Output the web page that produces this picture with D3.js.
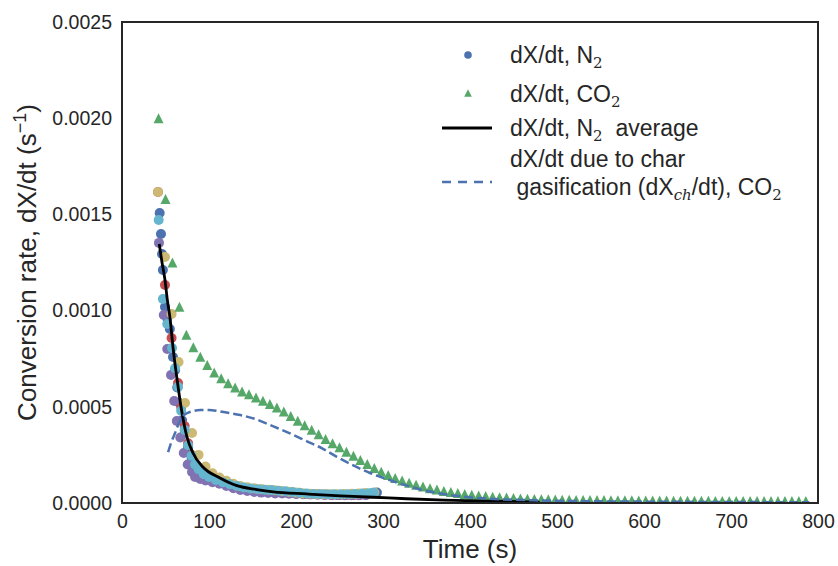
<!DOCTYPE html>
<html>
<head>
<meta charset="utf-8">
<script src="https://cdn.jsdelivr.net/npm/d3@7"></script>
<style>
  body { margin: 0; background: #fff; }
  text { font-family: "Liberation Sans", Arial, sans-serif; fill: #262626; }
</style>
</head>
<body>
<script>
// all rates below are in units of 1e-3 1/s

// CO2 run, one triangle each ~8 s
var co2Time = [42,50,58,66,74,82,90,98,106,114,122,130,138,146,154,162,170,178,186,194,202,210,218,226,234,242,250,258,266,274,282,290,298,306,314,322,330,338,346,354,362,370,378,386,394,402,410,418,426,434,442,450,458,466,474,482,490,498,506,514,522,530,538,546,554,562,570,578,586,594,602,610,618,626,634,642,650,658,666,674,682,690,698,706,714,722,730,738,746,754,762,770,778,786];
var co2Rate = [2.00,1.58,1.25,1.02,0.875,0.81,0.76,0.717,0.678,0.648,
  0.622,0.600,0.580,0.565,0.548,0.532,0.515,0.496,0.475,0.452,
  0.428,0.404,0.381,0.357,0.333,0.311,0.290,0.267,0.245,0.224,
  0.203,0.182,0.162,0.145,0.130,0.117,0.105,0.095,0.086,0.077,
  0.070,0.063,0.057,0.052,0.047,0.043,0.039,0.036,0.033,0.030,
  0.028,0.026,0.024,0.022,0.021,0.020,0.019,0.018,0.017,0.017,
  0.016,0.016,0.015,0.015,0.015,0.014,0.014,0.014,0.014,0.013,
  0.013,0.013,0.013,0.013,0.012,0.012,0.012,0.012,0.012,0.012,
  0.011,0.011,0.011,0.011,0.011,0.011,0.011,0.010,0.010,0.010,
  0.010,0.010,0.010,0.010];

// N2 runs (scatter)
var blueTime = [43.3,44.8,46,47,49.4,52,55,58.6,61,63.5,66,69,72,76,80,84,88,96,104,112,120,128,136,144,152,160,168,176,184,192,200,208,216,224,232,240,248,256,264,272,280,287,293];
var blueRate = [1.507,1.398,1.294,1.211,1.019,0.96,0.904,0.759,0.69,0.60,0.52,0.43,0.36,0.29,0.235,0.20,0.18,0.155,0.135,0.118,0.104,0.091,0.081,0.074,0.069,0.065,0.061,0.058,0.055,0.052,0.050,0.048,0.046,0.045,0.044,0.043,0.042,0.042,0.042,0.043,0.045,0.049,0.055];
var redTime = [41.4,49.4,57,64.4,68,72,76,80,85,90,98,106,114,122,130,138,146,154,162,170,178,186,194,202,210,218,226,234,242,250,258,266,274,282];
var redRate = [1.616,1.133,0.858,0.624,0.50,0.40,0.31,0.25,0.20,0.17,0.145,0.125,0.110,0.097,0.086,0.078,0.072,0.067,0.063,0.060,0.057,0.054,0.052,0.049,0.047,0.046,0.044,0.043,0.042,0.041,0.041,0.041,0.042,0.044];
var purpleTime = [42.5,48,52,56.3,60,63,67,71,75.5,80.5,84,90,96,104,112,120,128,136,144,152,160,168,176,184,192,200,208,216,224,232,240,248,256,264,272,280];
var purpleRate = [1.352,0.977,0.80,0.665,0.53,0.426,0.34,0.26,0.20,0.161,0.135,0.125,0.117,0.108,0.100,0.088,0.077,0.068,0.062,0.057,0.054,0.052,0.050,0.049,0.048,0.047,0.046,0.045,0.044,0.043,0.042,0.041,0.040,0.040,0.040,0.041];
var yellowTime = [41.4,49.4,57,65,72.4,80.5,88,96,104,112,120,128,136,144,152,160,168,176,184,192,200,208,216,224,232,240,248,256,264,272,280,290];
var yellowRate = [1.616,1.279,0.982,0.733,0.52,0.364,0.25,0.19,0.155,0.132,0.115,0.100,0.088,0.082,0.077,0.073,0.069,0.066,0.062,0.058,0.054,0.050,0.048,0.047,0.046,0.046,0.046,0.047,0.048,0.050,0.052,0.055];
var cyanTime = [42.2,47,52,57.5,61,64.4,68,72,76,80,84,88,94,100,108,116,124,132,140,148,156,164,172,180,188,196,204,212,220,228,236,244,252,260,268,276,284,289];
var cyanRate = [1.471,1.06,0.93,0.806,0.70,0.603,0.48,0.38,0.30,0.245,0.20,0.175,0.15,0.135,0.12,0.108,0.097,0.088,0.081,0.076,0.072,0.069,0.067,0.064,0.061,0.057,0.053,0.049,0.047,0.046,0.045,0.045,0.045,0.046,0.047,0.049,0.051,0.053];

// N2 average line
var avgTime = [42.8,46,49.4,52,55,59,63.4,69,74.7,81.6,93,112.6,132,155,174,212,251,289,327,370,420,480];
var avgRate = [1.346,1.25,1.159,1.06,0.967,0.795,0.639,0.468,0.343,0.260,0.187,0.130,0.090,0.070,0.058,0.047,0.037,0.030,0.022,0.015,0.010,0.005];

// char gasification, CO2 (dashed)
var charTime = [53,57,61,65,69,74,80,90,100,110,120,136,153,174,193,212,230,247,266,285,305,323,343,369,396,427,473,520,600,700,790];
var charRate = [0.265,0.32,0.364,0.41,0.447,0.465,0.476,0.483,0.483,0.478,0.470,0.457,0.437,0.398,0.362,0.322,0.284,0.240,0.195,0.156,0.123,0.096,0.070,0.047,0.031,0.021,0.014,0.010,0.007,0.005,0.004];

var xTicks = [0,100,200,300,400,500,600,700,800];
var yTicks = [0,0.5,1.0,1.5,2.0,2.5];

var n2Runs = [
  { time: blueTime, rate: blueRate, color: "#4C72B0" },
  { time: redTime, rate: redRate, color: "#C44E52" },
  { time: purpleTime, rate: purpleRate, color: "#8172B2" },
  { time: yellowTime, rate: yellowRate, color: "#CCB974" },
  { time: cyanTime, rate: cyanRate, color: "#64B5CD" }
];

var W = 838, H = 566;
var pLeft = 122, pRight = 818, pTop = 22, pBottom = 503;

var svg = d3.select("body").append("svg").attr("width", W).attr("height", H);

var x = d3.scaleLinear().domain([0, 800]).range([pLeft, pRight]);
var y = d3.scaleLinear().domain([0, 2.5]).range([pBottom, pTop]);

svg.append("clipPath").attr("id", "plotclip")
  .append("rect").attr("x", pLeft).attr("y", pTop)
  .attr("width", pRight - pLeft).attr("height", pBottom - pTop);

var plot = svg.append("g").attr("clip-path", "url(#plotclip)");

// scatter of N2 runs
n2Runs.forEach(function(run) {
  plot.append("g").selectAll("circle")
    .data(d3.zip(run.time, run.rate))
    .enter().append("circle")
    .attr("cx", function(d) { return x(d[0]); })
    .attr("cy", function(d) { return y(d[1]); })
    .attr("r", 5)
    .attr("fill", run.color);
});

// CO2 triangles
plot.append("g").selectAll("path")
  .data(d3.zip(co2Time, co2Rate))
  .enter().append("path")
  .attr("d", "M0,-5L5,5L-5,5Z")
  .attr("transform", function(d) { return "translate(" + x(d[0]) + "," + y(d[1]) + ")"; })
  .attr("fill", "#55A868");

var line = d3.line()
  .x(function(d) { return x(d[0]); })
  .y(function(d) { return y(d[1]); })
  .curve(d3.curveMonotoneX);

plot.append("path")
  .attr("d", line(d3.zip(avgTime, avgRate)))
  .attr("fill", "none").attr("stroke", "#000").attr("stroke-width", 2.8);

plot.append("path")
  .attr("d", line(d3.zip(charTime, charRate)))
  .attr("fill", "none").attr("stroke", "#4C72B0").attr("stroke-width", 2.5)
  .attr("stroke-dasharray", "9,4");

// axes (no tick marks, seaborn white style)
var xAxis = svg.append("g").attr("transform", "translate(0," + pBottom + ")")
  .call(d3.axisBottom(x).tickValues(xTicks).tickSize(0).tickPadding(11).tickFormat(d3.format("d")));
var yAxis = svg.append("g").attr("transform", "translate(" + pLeft + ",0)")
  .call(d3.axisLeft(y).tickValues(yTicks).tickSize(0).tickPadding(10)
    .tickFormat(function(d) { return (d / 1000).toFixed(4); }));
[xAxis, yAxis].forEach(function(a) {
  a.select(".domain").remove();
  a.attr("font-family", null).attr("font-size", null);
  a.selectAll("text").attr("font-size", 19.5).attr("fill", "#262626");
});

svg.append("rect")
  .attr("x", pLeft).attr("y", pTop)
  .attr("width", pRight - pLeft).attr("height", pBottom - pTop)
  .attr("fill", "none").attr("stroke", "#262626").attr("stroke-width", 2);

// axis labels
svg.append("text").attr("x", (pLeft + pRight) / 2).attr("y", 558)
  .attr("text-anchor", "middle").attr("font-size", 26).text("Time (s)");

var yl = svg.append("text")
  .attr("transform", "translate(36," + (pTop + pBottom) / 2 + ") rotate(-90)")
  .attr("text-anchor", "middle").attr("font-size", 26);
yl.append("tspan").text("Conversion rate, dX/dt (s");
yl.append("tspan").attr("dy", -10).attr("font-size", 18).text("\u22121");
yl.append("tspan").attr("dy", 10).text(")");

// legend
var lg = svg.append("g");
var legFont = 23;
lg.append("circle").attr("cx", 468).attr("cy", 55).attr("r", 3.8).attr("fill", "#4C72B0");
lg.append("path").attr("d", "M0,-3.8L3.8,3.8L-3.8,3.8Z")
  .attr("transform", "translate(468,93)").attr("fill", "#55A868");
lg.append("line").attr("x1", 442).attr("x2", 492).attr("y1", 128).attr("y2", 128)
  .attr("stroke", "#000").attr("stroke-width", 2.8);
lg.append("line").attr("x1", 442).attr("x2", 492).attr("y1", 182).attr("y2", 182)
  .attr("stroke", "#4C72B0").attr("stroke-width", 2.5).attr("stroke-dasharray", "9,7");

function sub(t, s, italic) {
  t.append("tspan").attr("dy", 5).attr("font-size", 15)
    .attr("font-family", "DejaVu Serif")
    .attr("font-style", italic ? "italic" : null).text(s);
}
var t1 = lg.append("text").attr("x", 510).attr("y", 63).attr("font-size", legFont);
t1.append("tspan").text("dX/dt, N");
sub(t1, "2");

var t2 = lg.append("text").attr("x", 510).attr("y", 102).attr("font-size", legFont);
t2.append("tspan").text("dX/dt, CO");
sub(t2, "2");

var t3 = lg.append("text").attr("x", 510).attr("y", 136).attr("font-size", legFont);
t3.append("tspan").text("dX/dt, N");
sub(t3, "2");
t3.append("tspan").attr("dy", -5).text("\u00a0 average");

lg.append("text").attr("x", 510).attr("y", 167).attr("font-size", legFont).text("dX/dt due to char");
var t4 = lg.append("text").attr("x", 510).attr("y", 195).attr("font-size", legFont);
t4.append("tspan").text("\u00a0gasification (dX");
sub(t4, "ch", true);
t4.append("tspan").attr("dy", -5).text("/dt), CO");
sub(t4, "2");
</script>
</body>
</html>
